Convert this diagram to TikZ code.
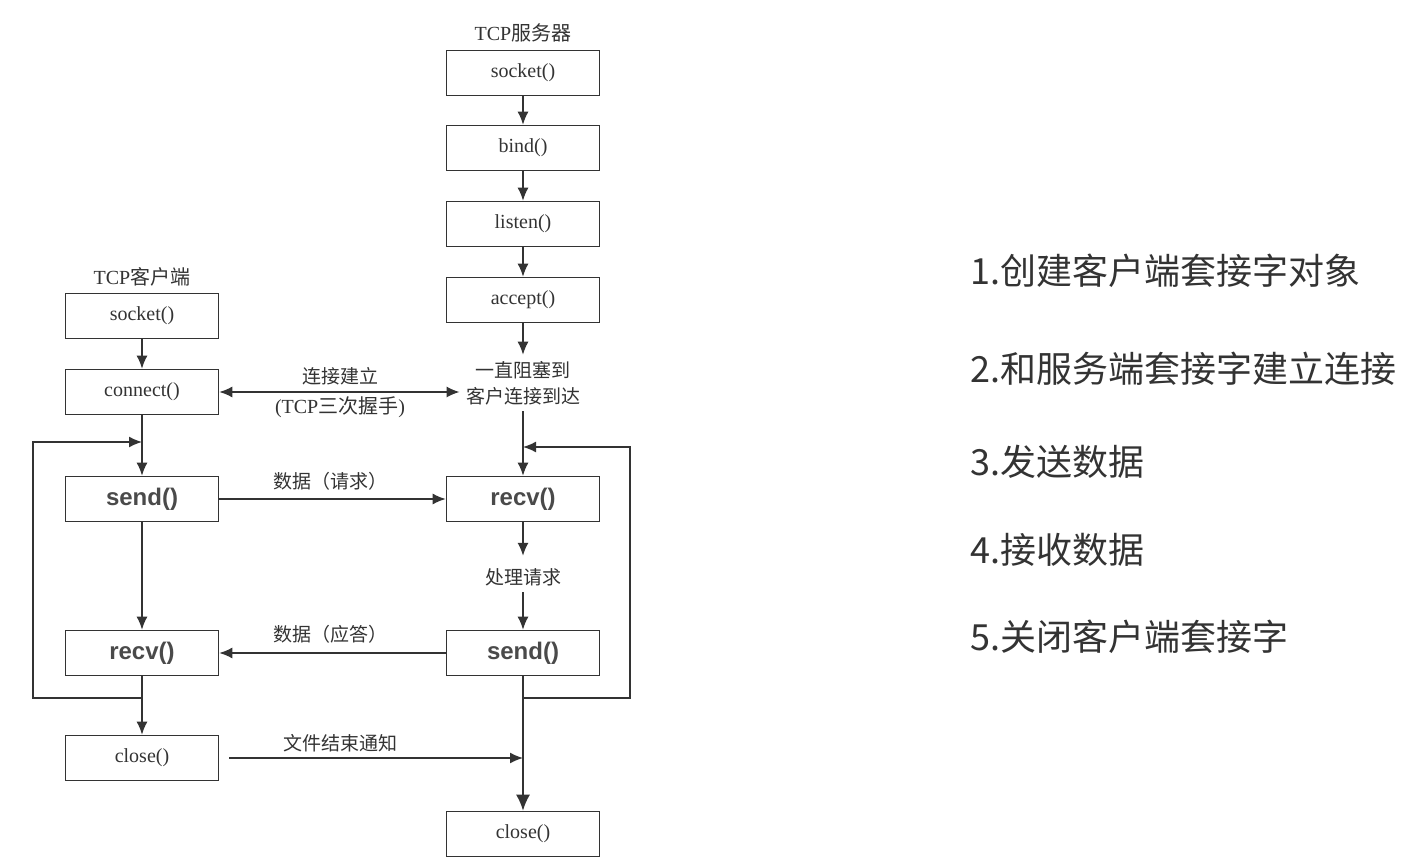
\documentclass[tikz,border=0pt]{standalone}
\usepackage{fontspec}
\setmainfont{Liberation Serif}
\newfontfamily\cjk{Noto Sans CJK SC}
\newfontfamily\bsans{Liberation Sans}
\usetikzlibrary{arrows.meta}
\definecolor{ink}{HTML}{333333}
\definecolor{boldink}{HTML}{4A4A4A}
\tikzset{
  box/.style={draw=ink, line width=0.8pt, minimum width=76.5pt, minimum height=22.5pt, inner sep=0pt, font=\fontsize{10}{12}\selectfont, text=ink},
  bbox/.style={box, font=\bsans\bfseries\fontsize{12}{14}\selectfont, text=boldink},
  lbl/.style={font=\cjk\fontsize{9.5}{12}\selectfont, text=ink, inner sep=1pt},
  arr/.style={draw=ink, line width=0.75pt, -{Latex[length=6.5pt,width=5.5pt]}},
  bigarr/.style={draw=ink, line width=0.9pt, -{Latex[length=8pt,width=7pt]}},
  arrtwo/.style={draw=ink, line width=0.75pt, {Latex[length=6.5pt,width=5.5pt]}-{Latex[length=6.5pt,width=5.5pt]}},
  note/.style={font=\cjk\fontsize{18}{20}\selectfont, text=ink, anchor=west, inner sep=0pt}
}
\begin{document}
\begin{tikzpicture}[x=0.5pt, y=-0.5pt]
\useasboundingbox (0,0) rectangle (1417,860);
% server column
\node[font=\fontsize{10}{12}\selectfont, text=ink] (stitle) at (523,33) {TCP{\cjk 服务器}};
\node[box] (ssock) at (523,73) {socket()};
\node[box] (sbind) at (523,148) {bind()};
\node[box] (slist) at (523,224) {listen()};
\node[box] (sacc) at (523,300) {accept()};
\node[lbl, align=center, font=\cjk\fontsize{9.5}{13}\selectfont, inner sep=3pt] (sblock) at (523,383) {一直阻塞到\\客户连接到达};
\node[bbox] (srecv) at (523,499) {recv()};
\node[lbl, inner sep=3pt] (sproc) at (523,577) {处理请求};
\node[bbox] (ssend) at (523,653) {send()};
\node[box] (sclose) at (523,834) {close()};
% client column
\node[font=\fontsize{10}{12}\selectfont, text=ink] (ctitle) at (142,277) {TCP{\cjk 客户端}};
\node[box] (csock) at (142,316) {socket()};
\node[box] (cconn) at (142,392) {connect()};
\node[bbox] (csend) at (142,499) {send()};
\node[bbox] (crecv) at (142,653) {recv()};
\node[box] (cclose) at (142,758) {close()};
% labels
\node[lbl] (l1) at (340,376) {连接建立};
\node[lbl, font=\fontsize{10}{12}\selectfont] (l2) at (340,407) {(TCP{\cjk 三次握手})};
\node[lbl] (l3) at (330,481) {数据（请求）};
\node[lbl] (l4) at (330,634) {数据（应答）};
\node[lbl] (l5) at (340,743) {文件结束通知};
% coordinates
\coordinate (cjoin) at (142,698);
\coordinate (cL1) at (33,698);
\coordinate (cL2) at (33,442);
\coordinate (ctop) at (142,442);
\coordinate (sjoin) at (523,698);
\coordinate (sR1) at (630,698);
\coordinate (sR2) at (630,447);
\coordinate (stop) at (523,447);
\coordinate (sfin) at (523,758);
% server arrows
\draw[arr] (ssock) -- (sbind);
\draw[arr] (sbind) -- (slist);
\draw[arr] (slist) -- (sacc);
\draw[arr] (sacc) -- (sblock);
\draw[arr] (sblock) -- (srecv);
\draw[arr, shorten >=3pt] (srecv) -- (sproc);
\draw[arr] (sproc) -- (ssend);
\draw[bigarr] (ssend) -- (sclose);
\draw[arr] (sjoin) -- (sR1) -- (sR2) -- (stop);
% client arrows
\draw[arr] (csock) -- (cconn);
\draw[arr] (cconn) -- (csend);
\draw[arr] (csend) -- (crecv);
\draw[arr] (crecv) -- (cclose);
\draw[arr] (cjoin) -- (cL1) -- (cL2) -- (ctop);
% cross arrows
\draw[arrtwo] (cconn.east) -- (cconn.east -| sblock.west);
\draw[arr] (csend.east) -- (srecv.west);
\draw[arr] (ssend.west) -- (crecv.east);
\draw[arr] ([xshift=5pt]cclose.east) -- (sfin);
% right notes
\node[note] (n1) at (970,271) {1.创建客户端套接字对象};
\node[note] (n2) at (970,369) {2.和服务端套接字建立连接};
\node[note] (n3) at (970,462) {3.发送数据};
\node[note] (n4) at (970,550) {4.接收数据};
\node[note] (n5) at (970,637) {5.关闭客户端套接字};
\end{tikzpicture}
\end{document}
